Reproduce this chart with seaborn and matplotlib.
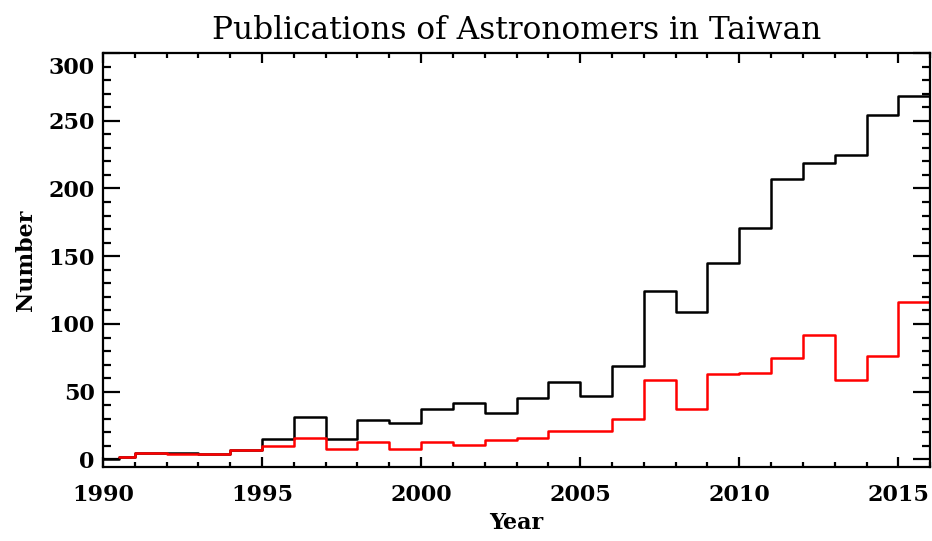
import numpy as np
import pandas as pd
import matplotlib
matplotlib.use("Agg")
import matplotlib.pyplot as plt
import matplotlib.transforms as mtransforms
import seaborn as sns

# bin start years (first bin is a half bin starting mid 1990)
bin_starts = [1990.5, 1991, 1992, 1993, 1994, 1995, 1996, 1997, 1998, 1999,
              2000, 2001, 2002, 2003, 2004, 2005, 2006, 2007, 2008, 2009,
              2010, 2011, 2012, 2013, 2014, 2015]
bin_end = 2016

# all publications (black)
total = [2, 5, 5, 4, 7, 15, 31, 15, 29, 27,
         37, 42, 34, 45, 57, 47, 69, 124, 109, 145,
         171, 207, 219, 225, 254, 268]
# red series
red_counts = [2, 5, 4, 4, 7, 10, 16, 8, 13, 8,
              13, 11, 14, 16, 21, 21, 30, 59, 37, 63,
              64, 75, 92, 59, 76, 116]

sns.set_style("ticks")
plt.rcParams["font.family"] = ["DejaVu Serif", "DejaVu Sans"]
plt.rcParams["text.color"] = "black"
plt.rcParams["axes.labelcolor"] = "black"
plt.rcParams["xtick.color"] = "black"
plt.rcParams["ytick.color"] = "black"

# steps-post needs the closing edge repeated at the end
black_df = pd.DataFrame({
    "year": [1990] + bin_starts + [bin_end],
    "n": [0] + total + [total[-1]],
})
red_df = pd.DataFrame({
    "year": bin_starts + [bin_end],
    "n": red_counts + [red_counts[-1]],
})

fig = plt.figure(figsize=(9.32, 5.41), dpi=100)
ax = fig.add_axes([0.1105, 0.137, 0.8875, 0.765])

sns.lineplot(data=black_df, x="year", y="n", ax=ax, color="black",
             linewidth=1.8, drawstyle="steps-post", sort=False, estimator=None)
sns.lineplot(data=red_df, x="year", y="n", ax=ax, color="red",
             linewidth=1.8, drawstyle="steps-post", sort=False, estimator=None)

ax.set_xlim(1990, 2016)
ax.set_ylim(-5.5, 300)
ax.set_xticks([1990, 1995, 2000, 2005, 2010, 2015])
ax.set_xticks(np.arange(1990, 2017, 1), minor=True)
ax.set_yticks([0, 50, 100, 150, 200, 250, 300])
ax.set_yticks(np.arange(0, 301, 10), minor=True)

ax.tick_params(axis="both", which="both", direction="in", top=True, right=True,
               width=1.6, labelsize=16)
ax.tick_params(axis="x", which="major", length=7, pad=12)
ax.tick_params(axis="x", which="minor", length=3.5)
ax.tick_params(axis="y", which="major", length=12, pad=6)
ax.tick_params(axis="y", which="minor", length=6)
for lab in ax.get_xticklabels() + ax.get_yticklabels():
    lab.set_fontweight("bold")
for s in ax.spines.values():
    s.set_linewidth(1.6)
    s.set_color("black")

# top y label sits a bit below its tick in the original
fig.canvas.draw()
ylabels = ax.get_yticklabels()
ylabels[-1].set_transform(ylabels[-1].get_transform() +
                          mtransforms.ScaledTranslation(0, -12 / 100, fig.dpi_scale_trans))

ax.set_title("Publications of Astronomers in Taiwan", fontsize=22.5, pad=10)
ax.set_xlabel("Year", fontsize=16, fontweight="bold", labelpad=5)
ax.set_ylabel("Number", fontsize=16, fontweight="bold", labelpad=8)

fig.savefig("out.png", dpi=100)
